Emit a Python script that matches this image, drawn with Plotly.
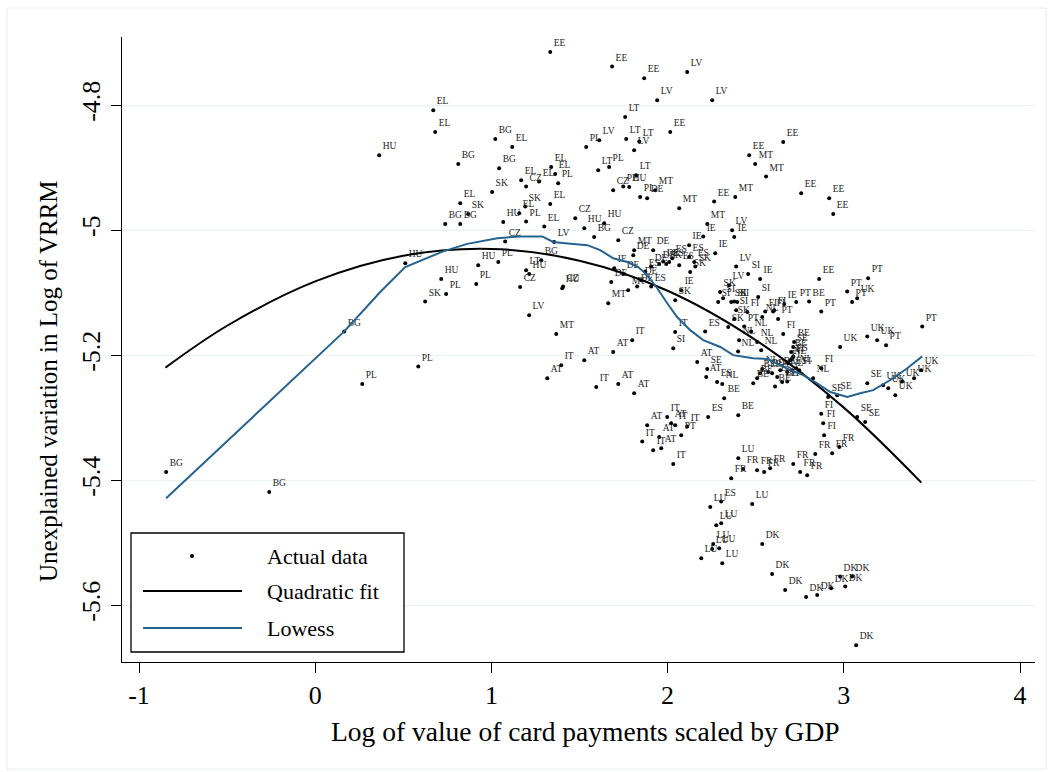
import plotly.graph_objects as go

# ---------------- data ----------------
labels = [
 "EL","EL","HU","BG","BG","EE","EE","EE","LV","LV","LV","LT","EE","BG","EL","PL","LV","LT","LT","LV",
 "BG","BG","EL","EL","PL","EL","CZ","EL","LT","PL","LT","PL","HU","CZ","SK","PL","DE","MT","EL","SK",
 "EL","SK","EL","HU","PL","EL","CZ","HU","HU","BG","CZ","MT","EE","MT","MT","IE","LV","IE","IE","IE",
 "EE","MT","MT","CZ","LV","MT","DE","EE","EE","EE","EE","LV","SI","IE","EE","PT","PT","UK","PT","PT",
 "BE","PT","IE","FI","SI","FI","PT","PT","SK","NL","ES","NL","NL","NL","NL","DE","ES","DE","DE","DE",
 "SK","ES","ES","ES","ES","SK","SK","IE","DE","DE","ES","DE","DE","ES","MT","MT","IE","SK","LV","SK",
 "SI","SI","SK","SI","SI","SI","FI","FI","SK","NL","IT","SI","IT","AT","AT","AT","SE","AT","ES","NL",
 "BE","BE","FI","BE","SE","BE","ES","FI","NL","FI","NL","FI","ES","NL","BE","BE","BE","NL","BE","BE",
 "ES","BE","FI","BE","UK","UK","FI","NL","SE","SE","PT","UK","PT","UK","UK","UK","UK","UK","SE","UK",
 "SE","SE","HU","HU","SK","PL","PL","HU","PL","BG","LT","HU","CZ","HU","CZ","LV","MT","PL","IT","AT",
 "BG","PL","BG","BG","IT","AT","AT","ES","BE","IT","AT","IT","IT","PT","AT","AT","IT","AT","IT","IT",
 "LU","FR","FR","FR","FI","FR","FR","FR","FR","FR","FR","FR","FR","ES","LU","LU","LU","LU","LU","LU",
 "LU","LU","LU","DK","DK","DK","DK","DK","DK","DK","DK","DK","DK","FI","FI",
]

x_vals = [
 0.670,0.681,0.363,0.738,0.823,1.334,1.685,1.867,2.111,1.941,2.253,1.759,2.015,1.022,1.118,1.538,1.612,1.765,1.839,1.810,
 0.812,1.044,1.339,1.362,1.379,1.169,1.197,1.271,1.606,1.668,1.822,1.748,1.782,1.691,1.004,1.844,1.884,1.930,0.823,0.868,
 1.334,1.192,1.158,1.067,1.197,1.300,1.476,1.527,1.640,1.583,1.720,2.066,2.264,2.384,2.225,2.202,2.366,2.378,2.270,2.122,
 2.463,2.497,2.559,1.078,1.356,1.810,1.918,2.656,2.758,2.917,2.940,2.389,2.457,2.525,2.860,3.138,3.019,3.076,3.047,2.872,
 2.803,2.730,2.662,2.605,2.514,2.452,2.627,2.435,2.344,2.474,2.213,2.406,2.508,2.531,2.400,1.805,2.122,1.907,1.952,1.975,
 1.992,2.009,2.026,2.066,2.151,2.157,2.128,1.697,1.748,1.680,1.873,1.850,1.827,1.907,1.776,1.663,2.077,2.043,2.349,2.298,
 2.315,2.287,2.361,2.378,2.395,2.389,2.554,2.599,2.378,2.537,2.043,2.032,1.799,1.691,1.527,2.168,2.225,2.219,2.281,2.310,
 2.321,2.486,2.656,2.718,2.713,2.701,2.713,2.707,2.696,2.684,2.730,2.747,2.707,2.679,2.639,2.593,2.571,2.537,2.525,2.508,
 2.622,2.650,2.679,2.610,3.133,2.979,2.872,2.826,2.911,2.962,3.445,3.189,3.240,3.439,3.399,3.331,3.252,3.223,3.133,3.292,
 3.076,3.121,0.511,0.715,0.624,0.743,0.914,0.925,1.039,1.283,1.197,1.214,1.163,1.402,1.407,1.214,1.368,0.585,1.396,1.317,
 0.165,0.267,-0.846,-0.261,1.595,1.720,1.810,2.230,2.401,1.998,2.020,2.043,2.111,2.077,1.884,1.952,1.856,1.964,1.918,2.032,
 2.401,2.429,2.508,2.361,2.888,2.974,2.934,2.838,2.713,2.752,2.792,2.548,2.582,2.304,2.242,2.480,2.304,2.276,2.259,2.293,
 2.253,2.191,2.310,2.537,2.593,2.667,2.786,2.849,2.928,2.979,3.047,3.008,3.070,2.872,2.883,
]

y_vals = [
 -4.808,-4.843,-4.880,-4.990,-4.990,-4.715,-4.738,-4.757,-4.747,-4.792,-4.792,-4.819,-4.843,-4.854,-4.867,-4.867,-4.856,-4.854,-4.858,-4.872,
 -4.894,-4.901,-4.899,-4.910,-4.925,-4.920,-4.930,-4.922,-4.904,-4.899,-4.912,-4.930,-4.931,-4.936,-4.939,-4.947,-4.949,-4.936,-4.957,-4.974,
 -4.958,-4.962,-4.973,-4.987,-4.986,-4.994,-4.981,-4.997,-4.989,-5.011,-5.016,-4.965,-4.954,-4.947,-4.990,-5.010,-5.000,-5.011,-5.037,-5.024,
 -4.880,-4.894,-4.914,-5.018,-5.019,-5.032,-5.032,-4.859,-4.941,-4.949,-4.974,-5.058,-5.070,-5.078,-5.078,-5.077,-5.098,-5.109,-5.115,-5.130,
 -5.114,-5.115,-5.118,-5.128,-5.107,-5.131,-5.142,-5.154,-5.155,-5.162,-5.162,-5.176,-5.179,-5.192,-5.194,-5.040,-5.043,-5.058,-5.054,-5.050,
 -5.054,-5.051,-5.045,-5.056,-5.051,-5.058,-5.067,-5.061,-5.070,-5.083,-5.066,-5.080,-5.090,-5.090,-5.096,-5.117,-5.096,-5.112,-5.088,-5.099,
 -5.109,-5.115,-5.115,-5.114,-5.115,-5.128,-5.130,-5.130,-5.142,-5.139,-5.163,-5.189,-5.176,-5.195,-5.208,-5.211,-5.222,-5.235,-5.243,-5.246,
 -5.269,-5.245,-5.166,-5.179,-5.187,-5.195,-5.202,-5.205,-5.208,-5.213,-5.221,-5.224,-5.224,-5.227,-5.224,-5.229,-5.227,-5.222,-5.229,-5.237,
 -5.235,-5.243,-5.242,-5.250,-5.170,-5.187,-5.221,-5.237,-5.267,-5.264,-5.154,-5.176,-5.184,-5.224,-5.237,-5.242,-5.253,-5.248,-5.245,-5.264,
 -5.299,-5.307,-5.053,-5.078,-5.114,-5.102,-5.086,-5.056,-5.051,-5.048,-5.064,-5.070,-5.091,-5.093,-5.090,-5.136,-5.166,-5.218,-5.216,-5.237,
 -5.162,-5.246,-5.387,-5.419,-5.251,-5.246,-5.261,-5.299,-5.296,-5.299,-5.309,-5.312,-5.314,-5.328,-5.312,-5.331,-5.338,-5.349,-5.352,-5.374,
 -5.365,-5.382,-5.384,-5.397,-5.328,-5.347,-5.357,-5.358,-5.374,-5.387,-5.392,-5.387,-5.381,-5.434,-5.443,-5.438,-5.469,-5.472,-5.502,-5.509,
 -5.510,-5.525,-5.533,-5.502,-5.550,-5.576,-5.587,-5.584,-5.573,-5.554,-5.554,-5.570,-5.664,-5.294,-5.309,
]

# quadratic fit line
fit_x = [-0.85, -0.5, 0.0, 0.5, 1.0, 1.5, 2.0, 2.5, 3.0, 3.44]
fit_y = [-5.220, -5.153, -5.082, -5.041, -5.030, -5.049, -5.097, -5.176, -5.284, -5.404]

# lowess line
low_x = [-0.846, 0.165, 0.369, 0.511, 0.726, 0.863, 1.033, 1.163, 1.288, 1.351, 1.419, 1.544, 1.617,
         1.691, 1.771, 1.833, 1.884, 1.941, 1.998, 2.054, 2.128, 2.202, 2.299, 2.372, 2.486, 2.565,
         2.639, 2.696, 2.770, 2.849, 2.923, 3.019, 3.093, 3.167, 3.280, 3.360, 3.445]
low_y = [-5.429, -5.162, -5.099, -5.059, -5.034, -5.022, -5.013, -5.010, -5.010, -5.019, -5.021, -5.024, -5.032,
         -5.045, -5.051, -5.059, -5.072, -5.093, -5.117, -5.139, -5.160, -5.176, -5.187, -5.200, -5.205, -5.206,
         -5.216, -5.224, -5.232, -5.245, -5.259, -5.267, -5.261, -5.256, -5.237, -5.221, -5.202]

x_ticks = [-1, 0, 1, 2, 3, 4]
x_tick_text = ["-1", "0", "1", "2", "3", "4"]
y_ticks = [-4.8, -5.0, -5.2, -5.4, -5.6]
y_tick_text = ["-4.8", "-5", "-5.2", "-5.4", "-5.6"]

legend_names = ["Actual data", "Quadratic fit", "Lowess"]
x_title = "Log of value of card payments scaled by GDP"
y_title = "Unexplained variation in Log of VRRM"

# ---------------- style ----------------
FONT = "Liberation Serif"
W, H = 1053, 772
ML, MR, MT, MB = 122, 18, 37, 110
PW, PH = W - ML - MR, H - MT - MB
BLUE = "#24628f"


def px(xp):
    return (xp - ML) / PW


def py(yp):
    return (H - MB - yp) / PH


fig = go.Figure()
fig.add_trace(go.Scatter(
    x=x_vals, y=y_vals, mode="markers+text", text=labels,
    textposition="top right", textfont=dict(family=FONT, size=9.5, color="#222"),
    marker=dict(size=4, color="black"), name=legend_names[0], showlegend=False,
    cliponaxis=False,
))
fig.add_trace(go.Scatter(x=fit_x, y=fit_y, mode="lines", line=dict(color="black", width=2, shape="spline"),
                         name=legend_names[1], showlegend=False))
fig.add_trace(go.Scatter(x=low_x, y=low_y, mode="lines", line=dict(color=BLUE, width=2),
                         name=legend_names[2], showlegend=False))

axis_common = dict(
    showline=True, linecolor="black", linewidth=1.3, ticks="outside", ticklen=10, tickwidth=1.3,
    tickcolor="black", zeroline=False, mirror=False,
    tickfont=dict(family=FONT, size=26, color="black"), tickmode="array",
)
fig.update_xaxes(range=[-1.0965, 4.085], tickvals=x_ticks, ticktext=x_tick_text, showgrid=False, **axis_common)
fig.update_yaxes(range=[-5.691, -4.691], tickvals=y_ticks, ticktext=y_tick_text, showgrid=True,
                 gridcolor="#eaf2f4", gridwidth=1.2, tickangle=-90, **axis_common)

shapes = [
    # outer graph region frame
    dict(type="rect", xref="paper", yref="paper", x0=px(7), x1=px(1046), y0=py(769), y1=py(8),
         line=dict(color="#e4ecef", width=1)),
    # legend box
    dict(type="rect", xref="paper", yref="paper", x0=px(131), x1=px(404), y0=py(652), y1=py(533),
         line=dict(color="black", width=1.3), fillcolor="white", layer="above"),
    dict(type="line", xref="paper", yref="paper", x0=px(143), x1=px(242), y0=py(591), y1=py(591),
         line=dict(color="black", width=2), layer="above"),
    dict(type="line", xref="paper", yref="paper", x0=px(143), x1=px(242), y0=py(628), y1=py(628),
         line=dict(color=BLUE, width=2), layer="above"),
    dict(type="circle", xref="paper", yref="paper", x0=px(190), x1=px(194), y0=py(558), y1=py(554),
         line=dict(color="black", width=0), fillcolor="black", layer="above"),
]

annotations = [
    dict(text=x_title, xref="paper", yref="paper", x=px(585), y=py(731), showarrow=False,
         xanchor="center", yanchor="middle", font=dict(family=FONT, size=27.5, color="black")),
    dict(text=y_title, xref="paper", yref="paper", x=px(48), y=py(381), showarrow=False, textangle=-90,
         xanchor="center", yanchor="middle", font=dict(family=FONT, size=25, color="black")),
]
for name, yy in zip(legend_names, [556, 591, 628]):
    annotations.append(dict(text=name, xref="paper", yref="paper", x=px(265), y=py(yy), showarrow=False,
                            xanchor="left", yanchor="middle", font=dict(family=FONT, size=22, color="black")))

fig.update_layout(
    width=W, height=H, autosize=False,
    margin=dict(l=ML, r=MR, t=MT, b=MB),
    paper_bgcolor="white", plot_bgcolor="white",
    showlegend=False, shapes=shapes, annotations=annotations,
    font=dict(family=FONT, color="black"),
)

fig.write_html("out.html")
